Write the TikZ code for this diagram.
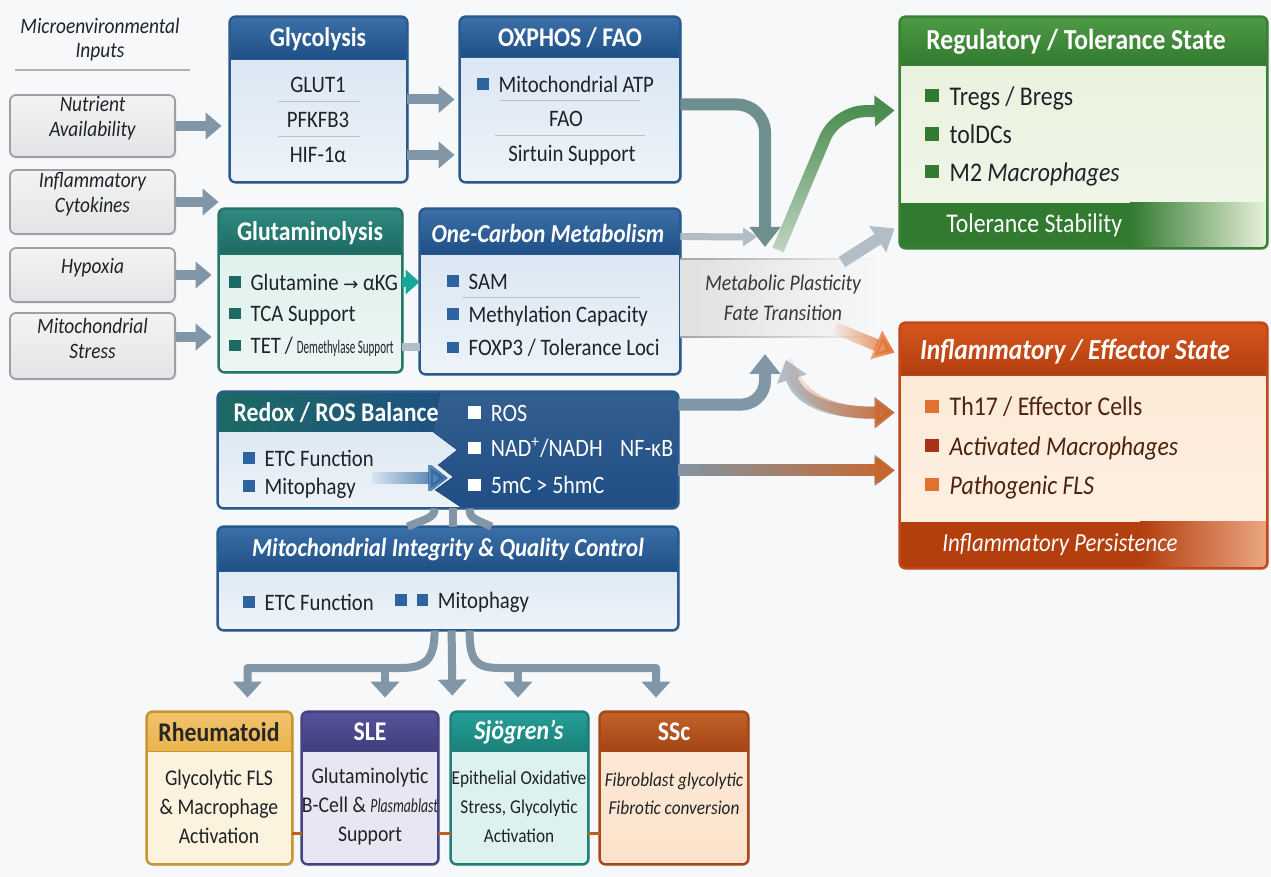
\documentclass[tikz,border=0pt]{standalone}
\usepackage{fontspec}
\usepackage{graphicx}
\setmainfont{Carlito}[FakeStretch=0.88]
\newfontfamily\symfont{DejaVu Sans}
\usetikzlibrary{arrows.meta,calc,fit,fadings,shadows}

\definecolor{pagebg}{HTML}{F7F8FA}
\definecolor{txt}{HTML}{1F2328}
\definecolor{inA}{HTML}{F3F3F3}
\definecolor{inB}{HTML}{E3E4E5}
\definecolor{inframe}{HTML}{9C9FA3}
\definecolor{arrgray}{HTML}{8196A6}
\definecolor{lightgray}{HTML}{B3BDC6}
\definecolor{tealgray}{HTML}{6E8F8F}
\definecolor{blueA}{HTML}{3C70A8}
\definecolor{blueB}{HTML}{1F4E86}
\definecolor{blueframe}{HTML}{2A5A8E}
\definecolor{bodyA}{HTML}{D5E3F1}
\definecolor{bodyB}{HTML}{EDF3F9}
\definecolor{bluebul}{HTML}{2D64A0}
\definecolor{tealA}{HTML}{2F8A80}
\definecolor{tealB}{HTML}{1C6A63}
\definecolor{tealframe}{HTML}{267568}
\definecolor{tealbody}{HTML}{DCEFEA}
\definecolor{tealarr}{HTML}{16A79A}
\definecolor{greenA}{HTML}{4E9A45}
\definecolor{greenB}{HTML}{327A2F}
\definecolor{greenframe}{HTML}{3B7F36}
\definecolor{greenbody}{HTML}{E8F1DC}
\definecolor{greenarr}{HTML}{4B8C4E}
\definecolor{orA}{HTML}{D5561E}
\definecolor{orB}{HTML}{B33E0E}
\definecolor{orframe}{HTML}{C0481A}
\definecolor{orbody}{HTML}{FDE8D4}
\definecolor{orarr}{HTML}{E2702E}
\definecolor{orlink}{HTML}{C0601E}
\definecolor{brownbul}{HTML}{A8331A}
\definecolor{browntxt}{HTML}{4E220E}
\definecolor{ratitle}{HTML}{EBB44A}
\definecolor{raframe}{HTML}{C99530}
\definecolor{rabody}{HTML}{FBF3DE}
\definecolor{sleA}{HTML}{56539A}
\definecolor{sleB}{HTML}{3F3D7D}
\definecolor{sleframe}{HTML}{45437F}
\definecolor{slebody}{HTML}{E7E6F2}
\definecolor{sjA}{HTML}{25A097}
\definecolor{sjB}{HTML}{1A7F78}
\definecolor{sjframe}{HTML}{1E7F78}
\definecolor{sjbody}{HTML}{DDF1EE}
\definecolor{sscA}{HTML}{C2632A}
\definecolor{sscB}{HTML}{A34514}
\definecolor{sscframe}{HTML}{A8481A}
\definecolor{sscbody}{HTML}{FCE2CA}

\tikzfading[name=fadein east, left color=transparent!100, right color=transparent!0]
\tikzfading[name=fadeout east, left color=transparent!0, right color=transparent!100]
\tikzfading[name=fadein north, bottom color=transparent!70, top color=transparent!0]

% square bullet
\newcommand\sq[1]{{\color{#1}\rule[0.1em]{0.5em}{0.5em}}\hspace{0.4em}}
% panel: name, corner, corner, band height, band shading, body shading, frame, extra
\newcommand\mkpanel[8]{%
  \node[fit={(#2)(#3)}, inner sep=0pt, rounded corners=3pt, #6,
        drop shadow={opacity=.18,shadow xshift=1pt,shadow yshift=-1pt}] (#1) {};
  \begin{scope}
    \clip[rounded corners=3pt] (#1.north west) rectangle (#1.south east);
    \fill[#5] (#1.north west) rectangle ($(#1.north east)+(0,#4)$);
    \draw[#7, line width=0.6pt] ($(#1.north west)+(0,#4)$) -- ($(#1.north east)+(0,#4)$);
    #8
  \end{scope}
  \draw[#7, line width=1.2pt, rounded corners=3pt] (#1.north west) rectangle (#1.south east);
}

\begin{document}
\begin{tikzpicture}[x=0.5pt, y=-0.5pt, line join=round,
  inbox/.style={draw=inframe, line width=0.9pt, rounded corners=3pt, top color=inA, bottom color=inB,
    inner sep=0pt, drop shadow={opacity=.15,shadow xshift=.8pt,shadow yshift=-.8pt},
    text=txt, font=\itshape\fontsize{11}{12.5}\selectfont, align=center},
  ttl/.style={text=white, font=\bfseries\fontsize{13.5}{15}\selectfont},
  itm/.style={text=txt, font=\fontsize{11.8}{13}\selectfont, anchor=west, inner sep=0pt},
  ctr/.style={text=txt, font=\fontsize{11.8}{13}\selectfont, inner sep=0pt},
  dtxt/.style={text=txt, font=\fontsize{11.2}{14.5}\selectfont, align=center},
  sepline/.style={draw=black!25, line width=0.5pt},
  inarr/.style={draw=arrgray, line width=5pt, -{Triangle[length=8pt,width=13pt]}},
  fat/.style={line width=6pt, -{Triangle[length=10pt,width=15pt]}},
  slimarr/.style={line width=3.5pt, -{Triangle[length=7pt,width=9pt]}},
  branch/.style={draw=arrgray, line width=4pt},
  droparr/.style={draw=arrgray, line width=4pt, -{Triangle[length=8pt,width=14pt]}},
  rlink/.style={draw=orlink, line width=1.6pt},
]
\useasboundingbox (0,0) rectangle (1271,877);
\fill[pagebg] (0,0) rectangle (1271,877);

% inputs
\node[text=txt, font=\itshape\fontsize{11}{12}\selectfont, align=center] (hdr) at (100,40) {Microenvironmental\\Inputs};
\draw[black!30, line width=1pt] (15,70) -- (190,70);
\node[inbox, fit={(10,95)(175,157)}] (nutr) {Nutrient\\Availability};
\node[inbox, fit={(10,170)(175,234)}] (infl) {Inflammatory\\Cytokines};
\node[inbox, fit={(10,248)(175,302)}] (hypo) {Hypoxia};
\node[inbox, fit={(10,313)(175,379)}] (mstr) {Mitochondrial\\Stress};

% metabolic modules
\mkpanel{glyc}{230,17}{407,182}{43}{top color=blueA, bottom color=blueB}{top color=bodyA, bottom color=bodyB}{blueframe}{}
\node[ttl] (glycT) at (318,39) {Glycolysis};
\node[ctr] (glyc1) at (318,85) {GLUT1};
\draw[sepline] (278,102) -- (360,102);
\node[ctr] (glyc2) at (318,120) {PFKFB3};
\draw[sepline] (278,137) -- (360,137);
\node[ctr] (glyc3) at (318,155) {HIF-1α};

\mkpanel{oxph}{460,17}{680,182}{41}{top color=blueA, bottom color=blueB}{top color=bodyA, bottom color=bodyB}{blueframe}{}
\node[ttl] (oxphT) at (570,38) {OXPHOS / FAO};
\node[itm] (oxph1) at (477,84) {\sq{bluebul}Mitochondrial ATP};
\draw[sepline] (500,101) -- (640,101);
\node[ctr] (oxph2) at (566,119) {FAO};
\draw[sepline] (495,136) -- (645,136);
\node[ctr] (oxph3) at (572,155) {Sirtuin Support};

\mkpanel{glut}{219,209}{402,372}{46}{top color=tealA, bottom color=tealB}{top color=tealbody, bottom color=tealbody!55!white}{tealframe}{}
\node[ttl] (glutT) at (310,233) {Glutaminolysis};
\node[itm] (glut1) at (229,282) {\sq{tealB}Glutamine {\symfont\fontsize{9}{10}\selectfont →} αKG};
\node[itm] (glut2) at (229,316) {\sq{tealB}TCA Support};
\node[itm] (glut3) at (229,347) {\sq{tealB}TET\,/\,{\fontsize{9.5}{10}\selectfont\scalebox{0.66}[1]{Demethylase Support}}};

\mkpanel{onec}{420,209}{680,374}{46}{top color=blueA, bottom color=blueB}{top color=bodyA, bottom color=bodyB}{blueframe}{}
\node[ttl, font=\bfseries\itshape\fontsize{13}{15}\selectfont] (onecT) at (548,233) {One-Carbon Metabolism};
\node[itm] (onec1) at (447,282) {\sq{bluebul}SAM};
\draw[sepline] (462,298) -- (640,298);
\node[itm] (onec2) at (447,316) {\sq{bluebul}Methylation Capacity};
\node[itm] (onec3) at (447,348) {\sq{bluebul}FOXP3 / Tolerance Loci};

% redox box, split light / dark
\node[fit={(218,392)(678,508)}, inner sep=0pt, rounded corners=3pt, top color=bodyA, bottom color=bodyB,
      drop shadow={opacity=.18,shadow xshift=1pt,shadow yshift=-1pt}] (redox) {};
\begin{scope}
  \clip[rounded corners=3pt] (redox.north west) rectangle (redox.south east);
  \fill[left color=tealB, right color=blueB] (218,392) rectangle (470,432);
  \fill[top color=blueA!85!black, bottom color=blueB] (440,392) -- (678,392) -- (678,508) -- (462,508)
    -- (435,490) -- (453,477) -- (438,465) -- (457,450) -- (433,432) -- (440,392) -- cycle;
  \draw[fat, draw=bluebul, path fading=fadein east] (372,478) -- (448,478);
\end{scope}
\draw[blueframe, line width=1.2pt, rounded corners=3pt] (redox.north west) rectangle (redox.south east);
\node[ttl] (redoxT) at (336,413) {Redox / ROS Balance};
\node[itm] (redox1) at (243,458) {\sq{bluebul}ETC Function};
\node[itm] (redox2) at (243,488) {\sq{bluebul}Mitophagy};
\node[itm, text=white, font=\fontsize{12.5}{14}\selectfont] (redox3) at (468,413) {\sq{white}ROS};
\node[itm, text=white, font=\fontsize{12.5}{14}\selectfont] (redox4) at (468,448) {\sq{white}NAD\textsuperscript{+}/NADH\hspace{0.7em}NF-κB};
\node[itm, text=white, font=\fontsize{12.5}{14}\selectfont] (redox5) at (468,485) {\sq{white}5mC > 5hmC};

\mkpanel{mito}{218,527}{678,630}{45}{top color=blueA, bottom color=blueB}{top color=bodyA, bottom color=bodyB}{blueframe}{}
\node[ttl, font=\bfseries\itshape\fontsize{13}{15}\selectfont] (mitoT) at (448,550) {Mitochondrial Integrity \& Quality Control};
\node[itm] (mito1) at (243,602) {\sq{bluebul}ETC Function};
\node[itm] (mito2) at (395,602) {\sq{bluebul}\sq{bluebul}Mitophagy};

% cell states
\mkpanel{reg}{900,17}{1267,248}{49}{top color=greenA, bottom color=greenB}{top color=greenbody, bottom color=greenbody!60!white}{greenframe}{%
  \fill[greenB] (900,203) rectangle (1130,248);
  \fill[left color=greenB, right color=greenbody] (1130,203) rectangle (1267,248);}
\node[ttl, font=\bfseries\fontsize{14.5}{16}\selectfont] (regT) at (1076,42) {Regulatory / Tolerance State};
\node[itm, font=\fontsize{13.5}{15}\selectfont] (reg1) at (925,98) {\sq{greenB}Tregs / Bregs};
\node[itm, font=\fontsize{13.5}{15}\selectfont] (reg2) at (925,134) {\sq{greenB}tolDCs};
\node[itm, font=\fontsize{13.5}{15}\selectfont] (reg3) at (925,174) {\sq{greenB}M2 \textit{Macrophages}};
\node[itm, text=white, font=\fontsize{13.5}{15}\selectfont] (regS) at (946,225) {Tolerance Stability};

\mkpanel{ineff}{900,323}{1267,568}{53}{top color=orA, bottom color=orB}{top color=orbody, bottom color=orbody!60!white}{orframe}{%
  \fill[orB] (900,522) rectangle (1140,568);
  \fill[left color=orB, right color=orA!45!orbody] (1140,522) rectangle (1267,568);}
\node[ttl, font=\bfseries\itshape\fontsize{14.5}{16}\selectfont] (ineffT) at (1075,352) {Inflammatory / Effector State};
\node[itm, text=browntxt, font=\fontsize{13.5}{15}\selectfont] (ineff1) at (925,407) {\sq{orarr}Th17 / Effector Cells};
\node[itm, text=browntxt, font=\itshape\fontsize{13.5}{15}\selectfont] (ineff2) at (925,448) {\sq{brownbul}Activated Macrophages};
\node[itm, text=browntxt, font=\itshape\fontsize{13.5}{15}\selectfont] (ineff3) at (925,487) {\sq{orarr}Pathogenic FLS};
\node[itm, text=white, font=\itshape\fontsize{13}{15}\selectfont] (ineffS) at (942,545) {Inflammatory Persistence};

% diseases
\mkpanel{ra}{147,712}{292,864}{40}{top color=ratitle!80!white, bottom color=ratitle}{fill=rabody}{raframe}{}
\node[ttl, text=black!85] (raT) at (219,732) {Rheumatoid};
\node[dtxt] (raB) at (219,807) {Glycolytic FLS\\\& Macrophage\\Activation};
\mkpanel{sle}{302,712}{438,864}{40}{top color=sleA, bottom color=sleB}{fill=slebody}{sleframe}{}
\node[ttl] (sleT) at (370,732) {SLE};
\node[dtxt] (sleB) at (370,807) {Glutaminolytic\\B-Cell \& {\itshape\fontsize{10}{10}\selectfont\scalebox{0.78}[1]{Plasmablast}}\\Support};
\mkpanel{sjo}{451,712}{588,864}{40}{top color=sjA, bottom color=sjB}{fill=sjbody}{sjframe}{}
\node[ttl, font=\bfseries\itshape\fontsize{13.5}{15}\selectfont] (sjoT) at (519,732) {Sjögren’s};
\node[dtxt, font=\fontsize{9.8}{14.5}\selectfont] (sjoB) at (519,807) {Epithelial Oxidative\\Stress, Glycolytic\\Activation};
\mkpanel{ssc}{600,712}{748,864}{40}{top color=sscA, bottom color=sscB}{top color=sscbody!70!white, bottom color=sscbody}{sscframe}{}
\node[ttl] (sscT) at (674,732) {SSc};
\node[dtxt, font=\itshape\fontsize{9.8}{14}\selectfont] (sscB) at (674,794) {Fibroblast glycolytic\\Fibrotic conversion};
\draw[rlink] ($(ra.south east)+(0,-31)$) -- ($(sle.south west)+(0,-31)$);
\draw[rlink] ($(sle.south east)+(0,-31)$) -- ($(sjo.south west)+(0,-31)$);
\draw[rlink] ($(sjo.south east)+(0,-31)$) -- ($(ssc.south west)+(0,-31)$);

% input arrows
\draw[inarr, shorten >=4pt] (nutr.east) -- (glyc.west |- nutr.east);
\draw[inarr] (infl.east) -- (glut.west |- infl.east);
\draw[inarr, shorten >=3.5pt] (hypo.east) -- (glut.west |- hypo.east);
\draw[inarr, shorten >=3.5pt] ($(mstr.east)+(0,-9)$) -- ($(glut.west |- mstr.east)+(0,-9)$);
\draw[inarr, shorten >=2.5pt] (glyc.east) -- (oxph.west);
\draw[inarr, shorten >=2.5pt] (glyc.east |- glyc3) -- (oxph.west |- glyc3);
\draw[draw=lightgray, line width=4pt] (glut.east |- glut3) -- (onec.west |- glut3);
\draw[draw=tealarr, line width=5pt, -{Triangle[length=7pt,width=12pt]}] (glut.east |- glut1) -- (onec.west |- glut1);

% plasticity hub
\coordinate (hubT) at (765,247);
\coordinate (hubL) at (757,237);
\coordinate (hubB) at (765,354);
\coordinate (hubG) at (778,250);
\coordinate (hubR) at (842,262);
\coordinate (hubO) at (835,328);
\coordinate (hubC) at (786,360);
\fill[left color=black!12, right color=pagebg] (680,259) rectangle (880,337);
\draw[black!35, line width=1.2pt, path fading=fadeout east] (680,259) -- (875,259);
\draw[black!35, line width=1.2pt, path fading=fadeout east] (680,337) -- (875,337);
\node[text=black!78, font=\itshape\fontsize{11.2}{15}\selectfont, align=center] (plast) at (783,298) {Metabolic Plasticity\\Fate Transition};

\draw[fat, draw=tealgray, rounded corners=14pt] ($(oxph.east)+(0,5)$) -| (hubT);
\draw[slimarr, draw=lightgray] ($(onec.north east)+(0,28)$) -- (hubL);
\draw[fat, draw=arrgray, rounded corners=12pt] ($(redox.north east)+(0,13)$) -| (hubB);
\draw[fat, draw=greenarr, rounded corners=14pt, path fading=fadein north] (hubG) -- (836,112) -- ($(reg.west)+(-5,-22)$);
\draw[fat, draw=lightgray] (hubR) -- ($(reg.south west)+(-5,-20)$);
\draw[fat, draw=orarr, path fading=fadein east] (hubO) -- ($(ineff.north west)+(-5,30)$);
\draw[fat, draw=lightgray, {Triangle[length=10pt,width=15pt]}-{Triangle[length=10pt,width=15pt]}]
  (hubC) .. controls (800,405) and (840,413) .. ($(ineff.north west)+(-5,90)$);
\draw[fat, draw=orarr!90!black, path fading=fadein east]
  (hubC) .. controls (800,405) and (840,413) .. ($(ineff.north west)+(-5,90)$);
\coordinate (lowR) at ($(redox.south east)+(0,-38)$);
\draw[fat, draw=arrgray, shorten >=2.5pt] (lowR) -- (lowR -| ineff.west);
\draw[fat, draw=orarr!90!black, shorten >=2.5pt, path fading=fadein east] (lowR) -- (lowR -| ineff.west);

% redox to mitochondria
\draw[branch] ($(redox.south west)+(217,0)$) .. controls +(0,10) and +(18,-8) .. ($(mito.north west)+(190,0)$);
\draw[branch] ($(redox.south west)+(235,0)$) -- ($(mito.north west)+(235,0)$);
\draw[branch] ($(redox.south west)+(252,0)$) .. controls +(0,10) and +(-18,-8) .. ($(mito.north west)+(274,0)$);

% mitochondria to diseases
\draw[droparr] ($(mito.south west)+(217,0)$) .. controls +(0,30) and +(25,0) .. (400,668) -| ($(ra.north)+(28,-14)$);
\draw[droparr] (385,668) -- ($(sle.north)+(15,-14)$);
\draw[droparr] ($(mito.south west)+(234,0)$) -- ($(sle.north east)+(14,-16)$);
\draw[droparr] ($(mito.south west)+(252,0)$) .. controls +(0,30) and +(-25,0) .. (500,668) -| ($(ssc.north)+(-18,-14)$);
\draw[droparr] (518,668) -- ($(sjo.north)+(-1.5,-14)$);
\end{tikzpicture}
\end{document}
